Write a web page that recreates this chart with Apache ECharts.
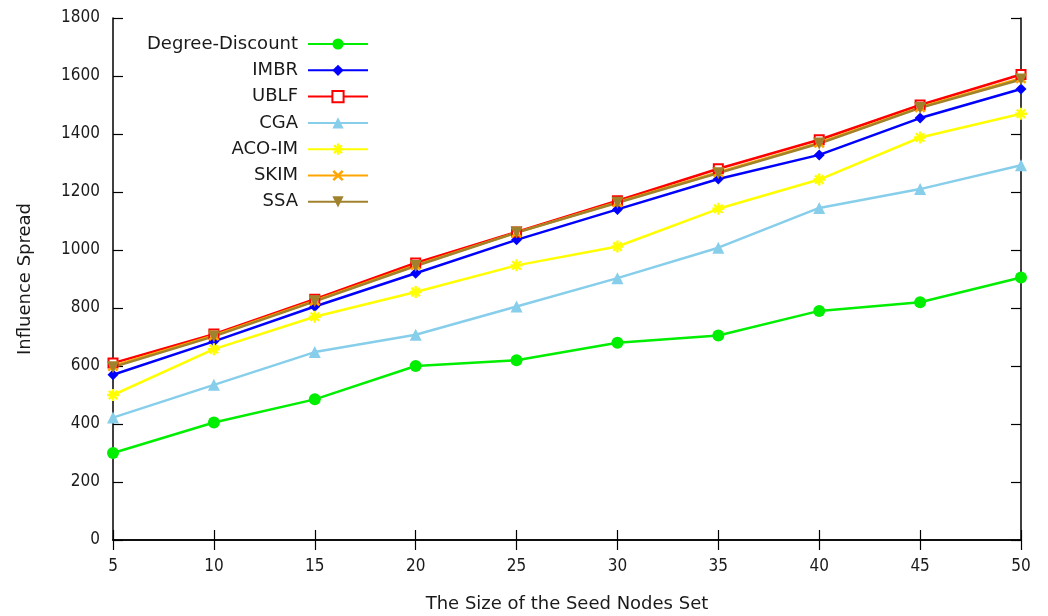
<!DOCTYPE html>
<html><head><meta charset="utf-8">
<script src="https://cdn.jsdelivr.net/npm/echarts@6/dist/echarts.min.js"></script>
<style>html,body{margin:0;padding:0;background:#fff}#c{width:1048px;height:616px}</style>
</head><body><div id="c"></div>
<script>
const seedSizes = [5, 10, 15, 20, 25, 30, 35, 40, 45, 50];
const degreeDiscount = [300, 405, 485, 600, 620, 680, 705, 790, 820, 905];
const imbr = [570, 685, 805, 920, 1035, 1140, 1245, 1328, 1455, 1555];
const ublf = [610, 710, 830, 955, 1062, 1170, 1280, 1380, 1500, 1605];
const cga = [422, 535, 648, 708, 805, 903, 1008, 1145, 1210, 1292];
const acoim = [500, 658, 770, 855, 947, 1012, 1142, 1243, 1388, 1470];
const skim = [600, 705, 825, 948, 1060, 1165, 1268, 1370, 1492, 1592];
const ssa = [596, 702, 823, 945, 1060, 1163, 1265, 1367, 1490, 1588];
const yTicks = [0, 200, 400, 600, 800, 1000, 1200, 1400, 1600, 1800];

const asterisk = 'path://M-1,-5L1,-5L1,5L-1,5Z M-5,-1L5,-1L5,1L-5,1Z M-2.8,-4.2L4.2,2.8L2.8,4.2L-4.2,-2.8Z M2.8,-4.2L4.2,-2.8L-2.8,4.2L-4.2,2.8Z';
const cross = 'path://M-3.4,-5L5,3.4L3.4,5L-5,-3.4Z M3.4,-5L5,-3.4L-3.4,5L-5,3.4Z';

function pairs(arr){ return seedSizes.map((x,i)=>[x, arr[i]]); }
const font = '"DejaVu Sans", sans-serif';
const tickFont = '"DejaVu Sans Condensed", "DejaVu Sans", sans-serif';
const txt = '#1a1a1a';
function mk(name, data, color, symbol, size, extra){
  return Object.assign({
    name, type:'line', data: pairs(data), symbol, symbolSize:size,
    lineStyle:{color, width:2.5}, itemStyle:{color}, color, z:2
  }, extra||{});
}
const series = [
  mk('Degree-Discount', degreeDiscount, '#00ee00', 'circle', 12),
  mk('IMBR', imbr, '#0000ff', 'diamond', 11),
  mk('UBLF', ublf, '#ff0000', 'rect', 9, {itemStyle:{color:'#ffffff', borderColor:'#ff0000', borderWidth:2}}),
  mk('CGA', cga, '#87ceeb', 'triangle', 12),
  mk('ACO-IM', acoim, '#ffff00', asterisk, 12),
  mk('SKIM', skim, '#ffa500', cross, 11),
  mk('SSA', ssa, '#a0822c', 'triangle', 12, {symbolRotate:180})
];
const chart = echarts.init(document.getElementById('c'), null, {renderer:'canvas'});
const axisLine = {show:true, lineStyle:{color:'#000', width:1.5}};
const tick = {show:true, inside:true, length:10, lineStyle:{color:'#000', width:1.2}};
chart.setOption({
  animation:false,
  backgroundColor:'#fff',
  textStyle:{fontFamily:font},
  grid:{left:113, right:27, top:18, bottom:76, containLabel:false, outerBoundsMode:'none'},
  legend:{
    orient:'vertical', right:674, top:30, align:'right',
    itemWidth:60, itemHeight:14, itemGap:8.3,
    textStyle:{fontFamily:font, fontSize:18, color:txt, lineHeight:16, padding:[0,5,0,0]},
    data: series.map(s=>s.name)
  },
  xAxis:[{
    type:'value', min:5, max:50, interval:5,
    name:'The Size of the Seed Nodes Set', nameLocation:'middle', nameGap:55,
    nameTextStyle:{fontFamily:font, fontSize:18, color:txt},
    axisLine, axisTick:tick,
    axisLabel:{fontFamily:tickFont, fontSize:17, color:txt, margin:18},
    splitLine:{show:false}
  },{
    type:'value', min:5, max:50, interval:5, position:'top',
    axisLine, axisTick:tick,
    axisLabel:{show:false}, splitLine:{show:false}
  }],
  yAxis:[{
    type:'value', min:0, max:1800, interval:200,
    name:'Influence Spread', nameLocation:'middle', nameGap:79,
    nameTextStyle:{fontFamily:font, fontSize:18, color:txt},
    axisLine, axisTick:tick,
    axisLabel:{fontFamily:tickFont, fontSize:17, color:txt, margin:13,
      formatter:v=>yTicks.includes(v)?String(v):''},
    splitLine:{show:false}
  },{
    type:'value', min:0, max:1800, interval:200, position:'right',
    axisLine, axisTick:tick,
    axisLabel:{show:false}, splitLine:{show:false}
  }],
  series
});
</script></body></html>
